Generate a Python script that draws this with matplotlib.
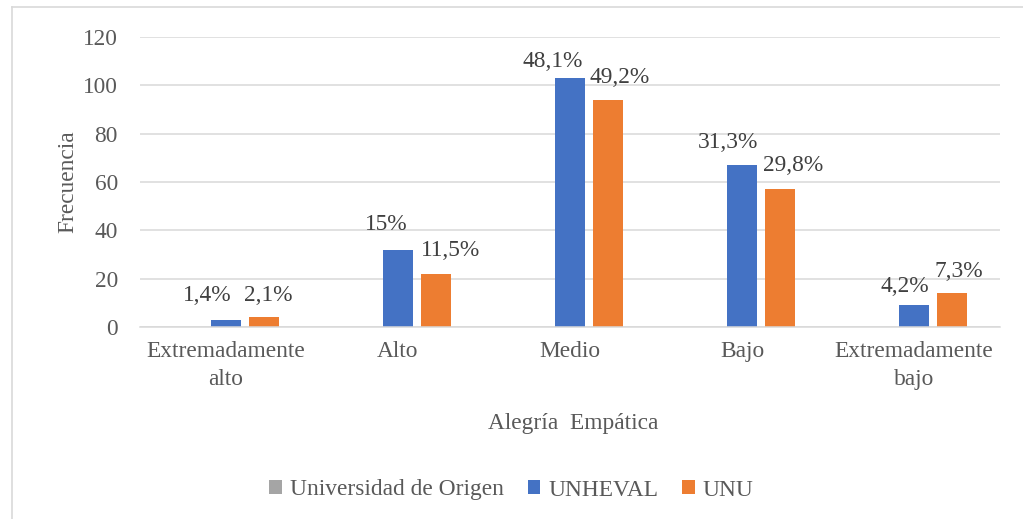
import numpy as np
import matplotlib
matplotlib.use("Agg")
import matplotlib.pyplot as plt
from matplotlib.lines import Line2D

plt.rcParams['font.family'] = ['Liberation Serif', 'DejaVu Serif']

categorias = ['Extremadamente\nalto', 'Alto', 'Medio', 'Bajo', 'Extremadamente\nbajo']
origen = [0, 0, 0, 0, 0]
unheval = [3, 32, 103, 67, 9]
unu = [4, 22, 94, 57, 14]
etq_unheval = ['1,4%', '15%', '48,1%', '31,3%', '4,2%']
etq_unu = ['2,1%', '11,5%', '49,2%', '29,8%', '7,3%']

# label offsets (pixels, from top-centre of bar to label centre)
off_unheval = [(-19, 24), (-12, 25), (-17, 17), (-14, 23), (-9, 19)]
off_unu = [(4, 22), (15, 23), (12, 22), (13, 24), (7, 22)]

fs = 16.8
gris_txt = '#595959'
fig = plt.figure(figsize=(10.23, 5.19), dpi=100)
ax = fig.add_axes([140/1023, 1-327/519, 860/1023, 290/519])

x = np.arange(len(categorias))
w = 0.18
paso = 0.221
ax.bar(x - paso, origen, w, color='#A5A5A5', label='Universidad de Origen')
b1 = ax.bar(x, unheval, w, color='#4472C4', label='UNHEVAL')
b2 = ax.bar(x + paso, unu, w, color='#ED7D31', label='UNU')

px = 0.72
for barras, etqs, offs in [(b1, etq_unheval, off_unheval), (b2, etq_unu, off_unu)]:
    for b, t, (dx, dy) in zip(barras, etqs, offs):
        ax.annotate(t, (b.get_x() + b.get_width()/2, b.get_height()),
                    xytext=(dx*px, dy*px), textcoords='offset points',
                    ha='center', va='center', fontsize=fs, color='#404040')

ax.set_xlim(-0.5, len(categorias) - 0.5)
ax.set_ylim(0, 120)
ax.set_yticks(range(0, 121, 20))
ax.set_xticks(x)
ax.set_xticklabels(categorias, fontsize=fs, color=gris_txt, linespacing=1.45)
ax.tick_params(axis='y', length=0, pad=16, labelsize=fs, labelcolor=gris_txt)
ax.tick_params(axis='x', length=0, pad=10)
ax.grid(axis='y', color='#d9d9d9', linewidth=1.1)
ax.set_axisbelow(True)
for s in ['top', 'right', 'left']:
    ax.spines[s].set_visible(False)
ax.spines['bottom'].set_color('#d9d9d9')
ax.spines['bottom'].set_linewidth(1.1)

ax.set_ylabel('Frecuencia', fontsize=fs, color=gris_txt, labelpad=3)
fig.text(573/1023, 1-423/519, 'Alegría  Empática', fontsize=fs, color=gris_txt,
         ha='center', va='center')

fig.legend(loc='center', bbox_to_anchor=(0.5, 1-490/519), ncol=3, frameon=False,
           fontsize=fs, labelcolor=gris_txt, handlelength=0.55, handleheight=0.55,
           handletextpad=0.35, columnspacing=1.0)

# chart frame (cut at right and bottom)
fig.add_artist(Line2D([12/1023, 12/1023], [0, 1-7/519], color='#d9d9d9', linewidth=1.2))
fig.add_artist(Line2D([12/1023, 1], [1-7/519, 1-7/519], color='#d9d9d9', linewidth=1.2))

fig.savefig('out.png', dpi=100)
